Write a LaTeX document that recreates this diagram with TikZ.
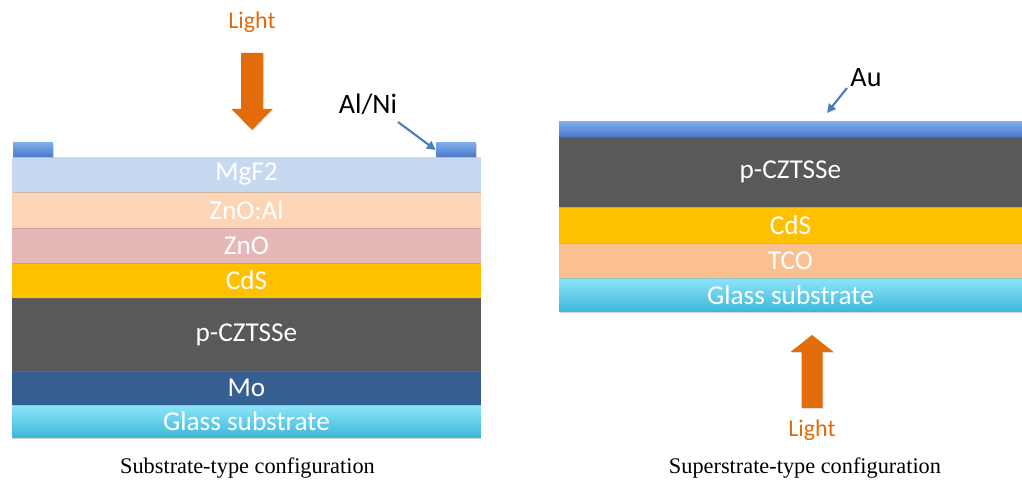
\documentclass[tikz,border=0pt]{standalone}
\usepackage{fontspec}
\setmainfont{Carlito}
\newfontfamily\capfont{Liberation Serif}
\usetikzlibrary{arrows.meta,shadows}

\definecolor{mgfblue}{RGB}{198,217,240}
\definecolor{znoal}{RGB}{251,213,181}
\definecolor{znopink}{RGB}{229,184,183}
\definecolor{cdsyellow}{RGB}{255,192,0}
\definecolor{czts}{RGB}{89,89,89}
\definecolor{moblue}{RGB}{53,95,145}
\definecolor{tcoorange}{RGB}{250,192,144}
\definecolor{glasstop}{RGB}{142,229,248}
\definecolor{glassbot}{RGB}{59,183,217}
\definecolor{metaltop}{RGB}{125,172,235}
\definecolor{metalbot}{RGB}{72,122,200}
\definecolor{lightorange}{RGB}{227,108,10}
\definecolor{pointblue}{RGB}{74,126,187}

\tikzset{
  layer/.style={rectangle, inner sep=0pt, text=white,
    font=\fontsize{15.5}{17}\selectfont,
    drop shadow={shadow xshift=0.3pt, shadow yshift=-0.7pt, opacity=0.35}},
  glass/.style={layer, top color=glasstop, bottom color=glassbot},
  metal/.style={rectangle, inner sep=0pt, top color=metaltop, bottom color=metalbot,
    drop shadow={shadow xshift=0.3pt, shadow yshift=-0.7pt, opacity=0.3}},
  lightarrow/.style={fill=lightorange, drop shadow={shadow xshift=0.5pt, shadow yshift=-0.5pt, opacity=0.25}},
  lighttext/.style={text=lightorange, font=\fontsize{13.6}{15}\selectfont},
  tag/.style={font=\fontsize{16}{18}\selectfont},
  pointer/.style={draw=pointblue, line width=1.2pt, -{Triangle[length=5pt,width=5pt]}},
  caption/.style={font=\capfont\fontsize{12.7}{14}\selectfont}
}

\begin{document}
\begin{tikzpicture}[x=0.02cm,y=-0.02cm]
	\useasboundingbox (0,0) rectangle (1022,482);
	% substrate-type stack, drawn bottom up
	\node[glass, minimum width=9.38cm, minimum height=0.66cm] (sglass) at (246.5,421.5) {Glass substrate};
	\node[layer, fill=moblue, minimum width=9.38cm, minimum height=0.68cm] (smo) at (246.5,388) {Mo};
	\node[layer, fill=czts, minimum width=9.38cm, minimum height=1.46cm] (sczts) at (246.5,334.5) {p-CZTSSe};
	\node[layer, fill=cdsyellow, minimum width=9.38cm, minimum height=0.70cm] (scds) at (246.5,280.5) {CdS};
	\node[layer, fill=znopink, minimum width=9.38cm, minimum height=0.70cm] (szno) at (246.5,245.5) {ZnO};
	\node[layer, fill=znoal, minimum width=9.38cm, minimum height=0.72cm] (sznoal) at (246.5,210) {ZnO:Al};
	\node[layer, fill=mgfblue, minimum width=9.38cm, minimum height=0.70cm] (smgf) at (246.5,174.5) {MgF2};
	\node[metal, minimum width=0.8cm, minimum height=0.28cm] (cleft) at (33,150) {};
	\node[metal, minimum width=0.8cm, minimum height=0.28cm] (cright) at (456,150) {};
	\node[tag] (alni) at (368,104) {Al/Ni};
	\coordinate (alnistart) at (398,122);
	\draw[pointer] (alnistart) -- (cright.west);
	\fill[lightarrow] (241,53) -- (263,53) -- (263,109) -- (272.5,109) -- (252,130) -- (231.5,109) -- (241,109) -- cycle;
	\node[lighttext] (slight) at (252,22) {Light};
	\node[caption] (scap) at (247.5,468) {Substrate-type configuration};
	% superstrate-type stack
	\node[glass, minimum width=9.26cm, minimum height=0.68cm] (pglass) at (790.5,295) {Glass substrate};
	\node[layer, fill=tcoorange, minimum width=9.26cm, minimum height=0.70cm] (ptco) at (790.5,260.5) {TCO};
	\node[layer, fill=cdsyellow, minimum width=9.26cm, minimum height=0.72cm] (pcds) at (790.5,225) {CdS};
	\node[layer, fill=czts, minimum width=9.26cm, minimum height=1.40cm] (pczts) at (790.5,172) {p-CZTSSe};
	\node[metal, minimum width=9.26cm, minimum height=0.30cm] (pau) at (790.5,129.5) {};
	\node[tag] (au) at (866,78) {Au};
	\coordinate (austart) at (847,88);
	\coordinate (auend) at (827,113);
	\draw[pointer] (austart) -- (auend);
	\fill[lightarrow] (801.5,408) -- (822.5,408) -- (822.5,352) -- (833.5,352) -- (812,335) -- (790.5,352) -- (801.5,352) -- cycle;
	\node[lighttext] (plight) at (812,430) {Light};
	\node[caption] (pcap) at (805,468) {Superstrate-type configuration};
\end{tikzpicture}
\end{document}
